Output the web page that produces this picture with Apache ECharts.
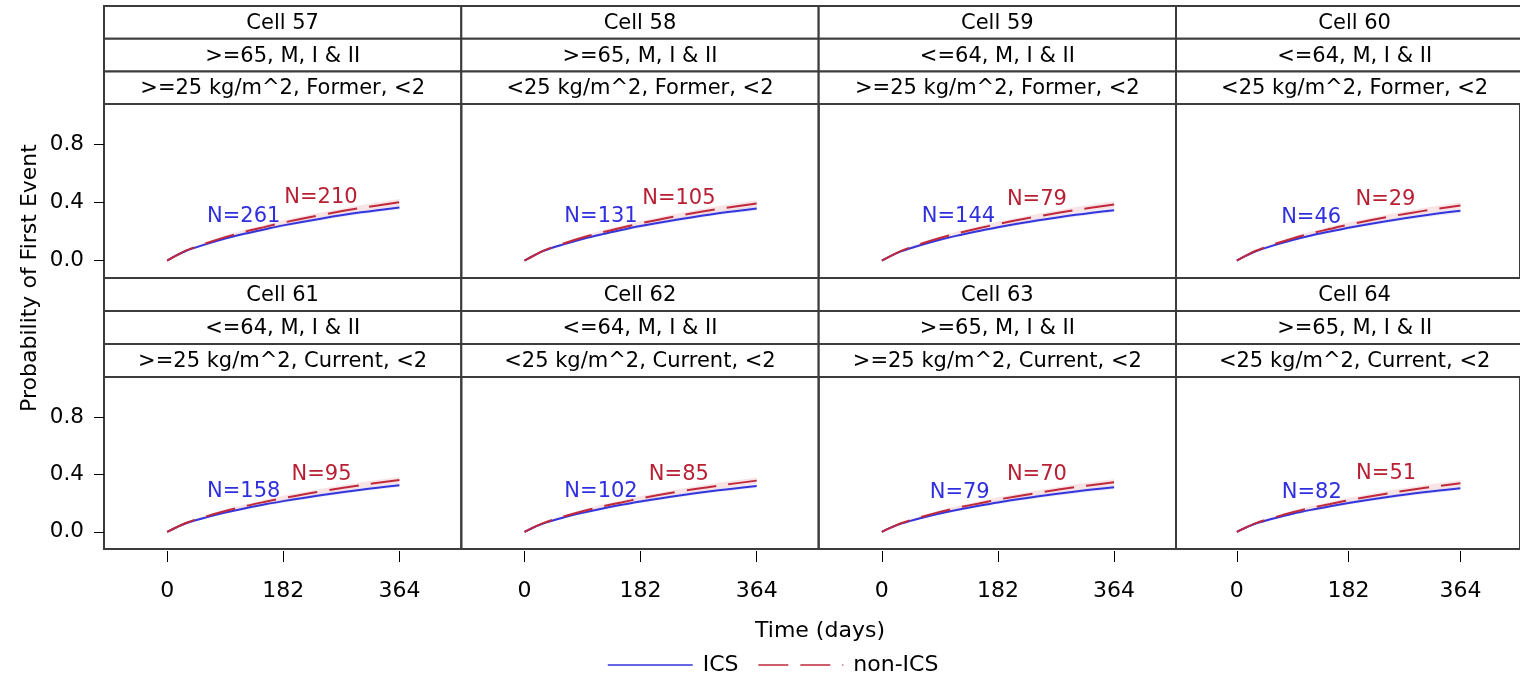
<!DOCTYPE html>
<html><head><meta charset="utf-8">
<script src="https://cdn.jsdelivr.net/npm/echarts@6/dist/echarts.min.js"></script>
<style>html,body{margin:0;padding:0;background:#fff}#c{width:1520px;height:677px}</style>
</head><body><div id="c"></div>
<script>
// ---------------- data ----------------
const cellTitles = ['Cell 57','Cell 58','Cell 59','Cell 60','Cell 61','Cell 62','Cell 63','Cell 64'];
const stripA = ['>=65, M, I & II','>=65, M, I & II','<=64, M, I & II','<=64, M, I & II',
                '<=64, M, I & II','<=64, M, I & II','>=65, M, I & II','>=65, M, I & II'];
const stripB = ['>=25 kg/m^2, Former, <2','<25 kg/m^2, Former, <2','>=25 kg/m^2, Former, <2','<25 kg/m^2, Former, <2',
                '>=25 kg/m^2, Current, <2','<25 kg/m^2, Current, <2','>=25 kg/m^2, Current, <2','<25 kg/m^2, Current, <2'];
const nICS = [261,131,144,46,158,102,79,82];
const nNonICS = [210,105,79,29,95,85,70,51];

const times = [0,15,30,60,91,121,152,182,243,304,364];

const ics57 = [0,0.037,0.068,0.112,0.152,0.185,0.215,0.243,0.291,0.333,0.367];
const non57 = [0,0.036,0.070,0.118,0.162,0.198,0.231,0.262,0.316,0.363,0.402];
const ics58 = [0,0.036,0.067,0.110,0.149,0.181,0.211,0.238,0.285,0.327,0.360];
const non58 = [0,0.035,0.069,0.116,0.159,0.194,0.227,0.257,0.310,0.356,0.394];
const ics59 = [0,0.035,0.064,0.106,0.144,0.175,0.204,0.230,0.276,0.316,0.348];
const non59 = [0,0.035,0.067,0.114,0.156,0.191,0.223,0.252,0.304,0.349,0.387];
const ics60 = [0,0.034,0.063,0.105,0.142,0.173,0.201,0.227,0.272,0.311,0.343];
const non60 = [0,0.034,0.066,0.112,0.153,0.187,0.219,0.248,0.299,0.343,0.380];
const ics61 = [0,0.032,0.060,0.099,0.134,0.163,0.190,0.214,0.257,0.294,0.324];
const non61 = [0,0.032,0.063,0.106,0.145,0.178,0.208,0.235,0.284,0.326,0.361];
const ics62 = [0,0.032,0.059,0.098,0.132,0.161,0.188,0.212,0.254,0.290,0.320];
const non62 = [0,0.032,0.062,0.105,0.144,0.176,0.205,0.233,0.281,0.322,0.357];
const ics63 = [0,0.031,0.057,0.095,0.128,0.156,0.182,0.205,0.246,0.281,0.310];
const non63 = [0,0.031,0.060,0.101,0.139,0.170,0.198,0.225,0.271,0.312,0.345];
const ics64 = [0,0.030,0.056,0.093,0.126,0.153,0.178,0.201,0.241,0.276,0.304];
const non64 = [0,0.030,0.059,0.099,0.136,0.167,0.194,0.220,0.266,0.305,0.338];

// confidence band half-widths
const icsBandHalf = [0,0.004,0.005,0.007,0.008,0.009,0.010,0.011,0.012,0.013,0.014];
const nonBandHalf = [0,0.005,0.007,0.009,0.011,0.013,0.014,0.016,0.018,0.020,0.022];

// label anchor points [day, probability]
const icsLabelPos = [[120,0.303],[120,0.303],[120,0.303],[121,0.295],[120,0.283],[120,0.283],[122,0.277],[122,0.277]];
const nonLabelPos = [[241,0.432],[242,0.428],[243,0.420],[242,0.422],[242,0.400],[242,0.400],[243,0.400],[243,0.403]];

const xTicks = [0,182,364];
const yTicks = [0,0.4,0.8];

const icsSeries = [ics57,ics58,ics59,ics60,ics61,ics62,ics63,ics64];
const nonSeries = [non57,non58,non59,non60,non61,non62,non63,non64];

// ---------------- layout ----------------
const FONT = 'DejaVu Sans';
const colLeft = [104, 461.3, 818.7, 1176];
const panelW = 357.3;
const rowHeaderTop = [6, 278];
const stripH = [32.7, 33];
const rowPlotTop = [104, 377];
const rowPlotBottom = [278, 549];
const BORDER = '#3c3c3c';
const BLUE = '#3535dc', RED = '#c0283c';
const BLUE_TXT = '#2f2fe0', RED_TXT = '#b81f33';

const grids = [], xAxes = [], yAxes = [], series = [], graphics = [];

function bandSeries(i, center, half, color) {
  const rows = times.map((t, j) => [t, center[j] - half[j], center[j] + half[j]]);
  return {type: 'custom', xAxisIndex: i, yAxisIndex: i, silent: true, animation: false, data: rows,
    encode: {x: 0, y: [1, 2]},
    renderItem: (params, api) => {
      if (params.dataIndex !== 0) return;
      const up = rows.map(r => api.coord([r[0], r[2]]));
      const lo = rows.map(r => api.coord([r[0], r[1]])).reverse();
      return {type: 'polygon', shape: {points: up.concat(lo)}, style: {fill: color}};
    }};
}

function labelSeries(i, pos, text, color) {
  return {type: 'scatter', xAxisIndex: i, yAxisIndex: i, symbolSize: 0, silent: true, animation: false,
    data: [pos], z: 5, itemStyle: {color: color, opacity: 1},
    label: {show: true, position: 'inside', formatter: text, color: color, opacity: 1,
      textBorderWidth: 0, fontFamily: FONT, fontSize: 21, align: 'center', verticalAlign: 'middle'}};
}

for (let i = 0; i < 8; i++) {
  const col = i % 4, row = Math.floor(i / 4);
  grids.push({left: colLeft[col], top: rowPlotTop[row], width: panelW,
    height: rowPlotBottom[row] - rowPlotTop[row], show: true, borderColor: BORDER, borderWidth: 2,
    backgroundColor: 'transparent', containLabel: false});
  xAxes.push({type: 'value', gridIndex: i, min: -99, max: 461, show: row === 1, offset: 2, position: 'bottom',
    axisLine: {show: false, onZero: false}, splitLine: {show: false},
    axisTick: {show: true, length: 11, inside: false, customValues: xTicks, lineStyle: {color: '#000', width: 1}},
    axisLabel: {show: true, customValues: xTicks, margin: 29, color: '#000', fontFamily: FONT, fontSize: 22}});
  yAxes.push({type: 'value', gridIndex: i, min: -0.12, max: 1.08, show: col === 0, position: 'left',
    axisLine: {show: false, onZero: false}, splitLine: {show: false},
    axisTick: {show: true, length: 10, customValues: yTicks, lineStyle: {color: '#000', width: 1}},
    axisLabel: {show: true, customValues: yTicks, margin: 20, color: '#000', fontFamily: FONT, fontSize: 21.5,
      formatter: v => Number(v).toFixed(1)}});

  const ics = icsSeries[i], non = nonSeries[i];
  const common = {xAxisIndex: i, yAxisIndex: i, symbol: 'none', showSymbol: false, smooth: 0.35, silent: true, animation: false};
  series.push(bandSeries(i, ics, icsBandHalf, 'rgba(90,90,220,0.13)'));
  series.push(bandSeries(i, non, nonBandHalf, 'rgba(205,70,80,0.15)'));
  series.push(Object.assign({type: 'line', name: 'ICS', data: times.map((t, j) => [t, ics[j]]),
    itemStyle: {color: BLUE}, lineStyle: {color: BLUE, width: 2}}, common));
  series.push(Object.assign({type: 'line', name: 'non-ICS', data: times.map((t, j) => [t, non[j]]),
    itemStyle: {color: RED}, lineStyle: {color: RED, width: 2, type: [30, 12]}}, common));
  series.push(labelSeries(i, icsLabelPos[i], 'N=' + nICS[i], BLUE_TXT));
  series.push(labelSeries(i, nonLabelPos[i], 'N=' + nNonICS[i], RED_TXT));

  const texts = [cellTitles[i], stripA[i], stripB[i]];
  for (let k = 0; k < 3; k++) {
    const y0 = rowHeaderTop[row] + k * stripH[row];
    graphics.push({type: 'rect', shape: {x: colLeft[col], y: y0, width: panelW, height: stripH[row]},
      style: {fill: '#fff', stroke: BORDER, lineWidth: 2}, silent: true, z: 10});
    graphics.push({type: 'text', x: colLeft[col] + panelW / 2, y: y0 + stripH[row] / 2 + 1,
      style: {text: texts[k], fill: '#000', font: '21px "' + FONT + '"', textAlign: 'center', textVerticalAlign: 'middle'},
      silent: true, z: 11});
  }
}

graphics.push({type: 'text', x: 30, y: 278, rotation: Math.PI / 2,
  style: {text: 'Probability of First Event', fill: '#000', font: '22px "' + FONT + '"', textAlign: 'center', textVerticalAlign: 'middle'}, z: 11});
graphics.push({type: 'text', x: 820, y: 631,
  style: {text: 'Time (days)', fill: '#000', font: '22px "' + FONT + '"', textAlign: 'center', textVerticalAlign: 'middle'}, z: 11});

const chart = echarts.init(document.getElementById('c'), null, {renderer: 'canvas'});
chart.setOption({
  animation: false,
  backgroundColor: '#fff',
  grid: grids, xAxis: xAxes, yAxis: yAxes, series: series,
  legend: {data: ['ICS', 'non-ICS'], left: 602, top: 649, itemWidth: 85, itemHeight: 14, itemGap: 19,
    itemStyle: {opacity: 0},
    textStyle: {fontFamily: FONT, fontSize: 22, color: '#000', padding: [0, 0, 0, 5]},
    lineStyle: {width: 1.5}, selectedMode: false},
  graphic: graphics
});
</script></body></html>
